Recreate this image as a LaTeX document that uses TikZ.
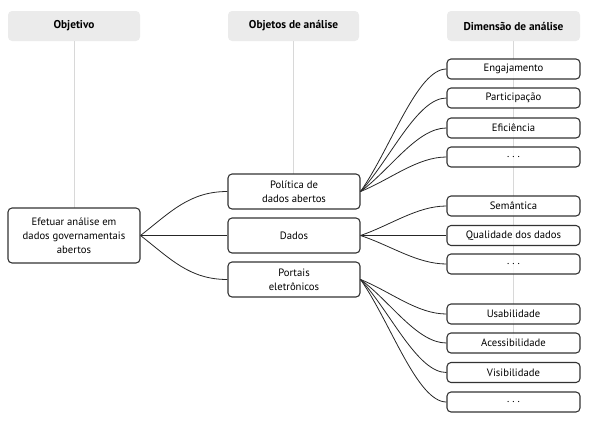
\documentclass[tikz,border=0pt]{standalone}
\usepackage{fontspec}
\setmainfont{PT Sans}
\usetikzlibrary{calc}
\definecolor{hdrfill}{HTML}{EBEBEB}
\definecolor{guide}{HTML}{D8D8D8}
\definecolor{boxline}{HTML}{333333}
\tikzset{
  hdr/.style={fill=hdrfill, rounded corners=3pt, minimum height=22.5pt, inner sep=0pt, font=\bfseries\fontsize{8.5}{10}\selectfont},
  midbox/.style={draw=boxline, line width=0.8pt, fill=white, rounded corners=3pt, minimum width=99pt, minimum height=26.25pt, inner sep=0pt, align=center, font=\fontsize{8}{10.5}\selectfont},
  dimbox/.style={draw=boxline, line width=0.8pt, fill=white, fill opacity=0.82, text opacity=1, draw opacity=1, rounded corners=3pt, minimum width=99.75pt, minimum height=15pt, inner sep=0pt, align=center, font=\fontsize{8}{10.5}\selectfont},
  conn/.style={draw=black!85, line width=0.6pt},
  guideline/.style={draw=guide, line width=0.5pt}
}
\newcommand\myconn[2]{\draw[conn] (#1.east) .. controls ($(#1.east)!0.35!(#2.west)$) and ($(#2.west)+(-22pt,0)$) .. (#2.west);}
\newcommand\mydots{.\hspace{2.2pt}.\hspace{2.2pt}.}
\begin{document}
\begin{tikzpicture}[x=0.75pt,y=-0.75pt]
\useasboundingbox (0,0) rectangle (592,421);
% headers
\node[hdr, minimum width=99pt] (hObj) at (74,26) {Objetivo};
\node[hdr, minimum width=98.25pt] (hObjA) at (293.5,26) {Objetos de análise};
\node[hdr, minimum width=99.75pt] (hDim) at (513.5,26) {Dimensão de análise};
% guide lines
\coordinate (gEnd) at (513.5,345);
\draw[guideline] (hObj.south) -- (74,208);
\draw[guideline] (hObjA.south) -- (293.5,174);
\draw[guideline] (hDim.south) -- (gEnd);
% boxes
\node[midbox, minimum height=41.25pt] (obj) at (74,235.5) {Efetuar análise em\\dados governamentais\\abertos};
\node[midbox] (pol) at (294,191.5) {Política de\\dados abertos};
\node[midbox] (dad) at (294,235.5) {Dados};
\node[midbox] (por) at (294,279.5) {Portais\\eletrônicos};
\node[dimbox] (eng) at (513.5,69) {Engajamento};
\node[dimbox] (par) at (513.5,98) {Participação};
\node[dimbox] (efi) at (513.5,128) {Eficiência};
\node[dimbox] (d1) at (513.5,157) {\mydots};
\node[dimbox] (sem) at (513.5,206) {Semântica};
\node[dimbox] (qua) at (513.5,235.5) {Qualidade dos dados};
\node[dimbox] (d2) at (513.5,264) {\mydots};
\node[dimbox] (usa) at (513.5,314) {Usabilidade};
\node[dimbox] (ace) at (513.5,343) {Acessibilidade};
\node[dimbox] (vis) at (513.5,372.5) {Visibilidade};
\node[dimbox] (d3) at (513.5,402) {\mydots};
% connectors
\draw[conn] (obj.east) to[out=38,in=180] (pol.west);
\draw[conn] (obj.east) -- (dad.west);
\draw[conn] (obj.east) to[out=-38,in=180] (por.west);
\myconn{pol}{eng}
\myconn{pol}{par}
\myconn{pol}{efi}
\myconn{pol}{d1}
\myconn{dad}{sem}
\draw[conn] (dad.east) -- (qua.west);
\myconn{dad}{d2}
\myconn{por}{usa}
\myconn{por}{ace}
\myconn{por}{vis}
\myconn{por}{d3}
\end{tikzpicture}
\end{document}
